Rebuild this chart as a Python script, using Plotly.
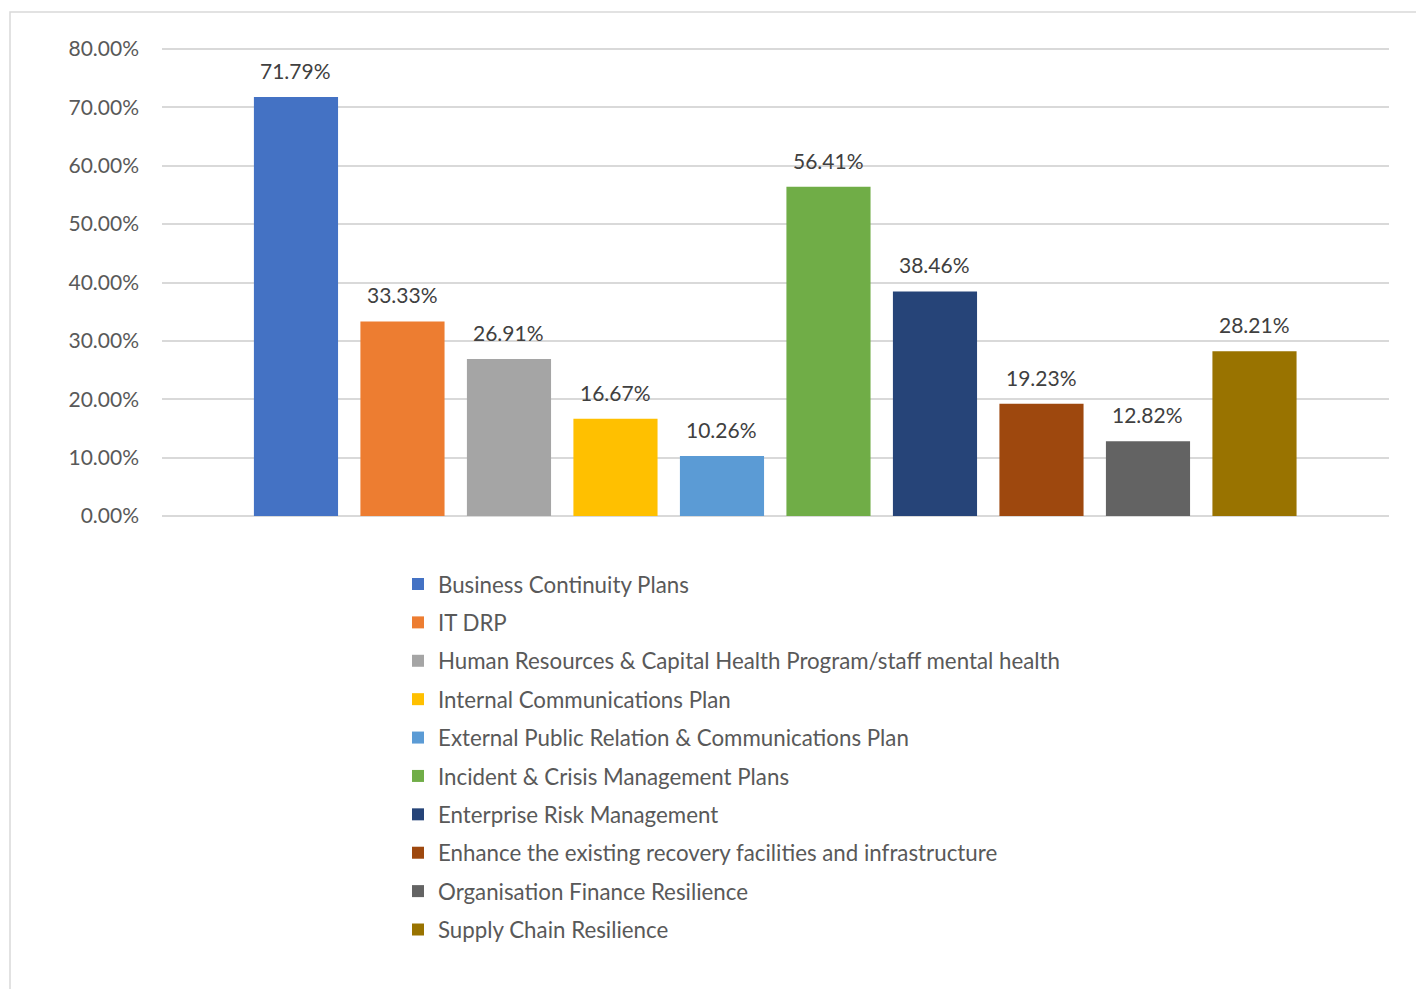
import plotly.graph_objects as go

# Survey results: share of respondents per resilience area
categories = [
    "Business Continuity Plans",
    "IT DRP",
    "Human Resources & Capital Health Program/staff mental health",
    "Internal Communications Plan",
    "External Public Relation & Communications Plan",
    "Incident & Crisis Management Plans",
    "Enterprise Risk Management",
    "Enhance the existing recovery facilities and infrastructure",
    "Organisation Finance Resilience",
    "Supply Chain Resilience",
]
values = [0.7179, 0.3333, 0.2691, 0.1667, 0.1026, 0.5641, 0.3846, 0.1923, 0.1282, 0.2821]
colors = ["#4472C4", "#ED7D31", "#A5A5A5", "#FFC000", "#5B9BD5",
          "#70AD47", "#264478", "#9E480E", "#636363", "#997300"]
y_ticks = [0, 0.1, 0.2, 0.3, 0.4, 0.5, 0.6, 0.7, 0.8]

FONT = "Lato"
W, H = 1416, 989
ML, MR, MT, MB = 162, 27, 47, 473
PW, PH = W - ML - MR, H - MT - MB

fig = go.Figure()
for i, (name, v, c) in enumerate(zip(categories, values, colors)):
    fig.add_trace(go.Bar(
        x=[i], y=[v], name=name, width=0.79,
        marker=dict(color=c, line=dict(width=0)),
        legendgroup=f"g{i}", hoverinfo="skip",
    ))
    fig.add_annotation(
        x=i, y=v, text=f"{v * 100:.2f}%", showarrow=False,
        yanchor="bottom", yshift=12,
        font=dict(family=FONT, size=21, color="#404040"),
    )

def px_x(p):
    return (p - ML) / PW

def px_y(p):
    return (H - MB - p) / PH

# chart border (top and left edges visible; right/bottom run past the page)
fig.add_shape(type="rect", xref="paper", yref="paper",
              x0=px_x(10), x1=px_x(W + 10), y0=px_y(H + 10), y1=px_y(12),
              line=dict(color="#D9D9D9", width=1.5), fillcolor="rgba(0,0,0,0)",
              layer="below")

# a little headroom above 80% so its gridline is drawn
y_top = 0.8 * PH / (PH - 2)

fig.update_layout(
    width=W, height=H,
    margin=dict(l=ML, r=MR, t=MT, b=MB),
    paper_bgcolor="white", plot_bgcolor="white",
    barmode="overlay",
    showlegend=True,
    legend=dict(
        x=px_x(398), xanchor="left",
        y=px_y(563), yanchor="top",
        orientation="v",
        font=dict(family=FONT, size=22.3, color="#595959"),
        tracegroupgap=6.4,
        bgcolor="rgba(0,0,0,0)",
    ),
    xaxis=dict(
        range=[-1.258, 10.263], showticklabels=False, showgrid=False,
        zeroline=False, showline=False, ticks="",
    ),
    yaxis=dict(
        range=[0, y_top], tickvals=y_ticks, tickformat=".2%",
        showgrid=True, gridcolor="#D9D9D9", gridwidth=1.5,
        zeroline=True, zerolinecolor="#D9D9D9", zerolinewidth=1.5,
        showline=False, ticks="", ticklabelstandoff=22,
        tickfont=dict(family=FONT, size=21, color="#595959"),
    ),
)

fig.write_html("out.html")
